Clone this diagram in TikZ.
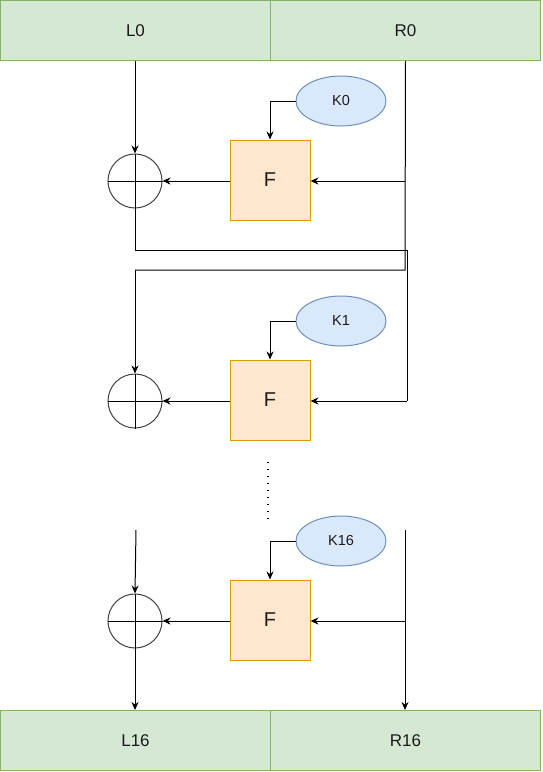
\documentclass[tikz,border=0pt]{standalone}
\usepackage{fontspec}
\setmainfont{Liberation Sans}
\usetikzlibrary{arrows.meta,shapes.geometric}
\definecolor{gfill}{HTML}{D5E8D4}
\definecolor{gline}{HTML}{82B366}
\definecolor{ofill}{HTML}{FFE6CC}
\definecolor{oline}{HTML}{D79B00}
\definecolor{bfill}{HTML}{DAE8FC}
\definecolor{bline}{HTML}{6C8EBF}
\definecolor{txt}{HTML}{1A1A1A}
\begin{document}
\begin{tikzpicture}[x=1pt,y=-1pt,
  halfbox/.style={draw=gline,fill=gfill,line width=1pt,minimum width=270pt,minimum height=60pt,inner sep=0pt,text=txt,font=\fontsize{17}{20}\selectfont},
  fbox/.style={draw=oline,fill=ofill,line width=1pt,minimum width=80pt,minimum height=80pt,inner sep=0pt,text=txt,font=\fontsize{20}{24}\selectfont},
  keyell/.style={ellipse,draw=bline,fill=bfill,line width=1pt,minimum width=90pt,minimum height=50pt,inner sep=0pt,text=txt,font=\fontsize{14.5}{17}\selectfont},
  xorc/.style={circle,draw=black!75,line width=1pt,minimum size=54pt,inner sep=0pt},
  conn/.style={draw=black,line width=1pt},
  arr/.style={conn,-{Stealth[length=8pt,width=7pt]}}
]
\useasboundingbox (0,0) rectangle (542,772);
% top and bottom halves
\node[halfbox] (L0) at (135.5,30.5) {L0};
\node[halfbox] (R0) at (405.5,30.5) {R0};
\node[halfbox] (L16) at (135.5,740.5) {L16};
\node[halfbox] (R16) at (405.5,740.5) {R16};
% round 1
\node[xorc] (X1) at (135,181) {};
\node[fbox] (F1) at (270,180) {F};
\node[keyell] (K0) at (341,101) {K0};
% round 2
\node[xorc] (X2) at (135,401) {};
\node[fbox] (F2) at (270,400) {F};
\node[keyell] (K1) at (341,321) {K1};
% round 16
\node[xorc] (X3) at (135,621) {};
\node[fbox] (F3) at (270,620) {F};
\node[keyell] (K16) at (341,541) {K16};
% xor crosses
\foreach \n in {X1,X2,X3}{
  \draw[conn] (\n.north) -- (\n.south);
  \draw[conn] (\n.west) -- (\n.east);
}
% coordinates
\coordinate (r1a) at (405,181);
\coordinate (s1) at (405,270);
\coordinate (s2) at (135,270);
\coordinate (t1) at (135,250);
\coordinate (t2) at (407,250);
\coordinate (t3) at (407,401);
\coordinate (l3) at (136,530);
\coordinate (r3) at (405,530);
\coordinate (r3b) at (405,621);
% round 1 connectors
\draw[arr] (L0.south -| X1.north) -- (X1.north);
\draw[conn] (R0.south) -- (s1) -- (s2);
\draw[arr] (s2) -- (X2.north);
\draw[arr] (r1a) -- (F1.east |- r1a);
\draw[arr] (F1.west |- X1.east) -- (X1.east);
\draw[arr] (K0.west) -| (F1.north);
\draw[conn] (X1.south) -- (t1) -- (t2) -- (t3);
% round 2
\draw[arr] (t3) -- (F2.east |- t3);
\draw[arr] (F2.west |- X2.east) -- (X2.east);
\draw[arr] (K1.west) -| (F2.north);
% dots
\draw[line width=1.3pt,dash pattern=on 1.3pt off 5.7pt,line cap=butt] (268,462) -- (268,522);
% round 16
\draw[arr] (l3) -- (X3.north);
\draw[arr] (r3) -- (R16.north -| r3);
\draw[arr] (r3b) -- (F3.east |- r3b);
\draw[arr] (F3.west |- X3.east) -- (X3.east);
\draw[arr] (K16.west) -| (F3.north);
\draw[arr] (X3.south) -- (L16.north -| X3.south);
\end{tikzpicture}
\end{document}
